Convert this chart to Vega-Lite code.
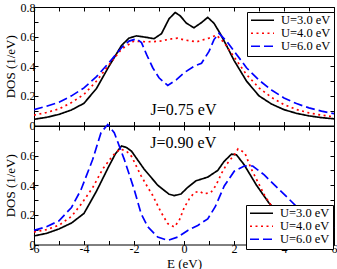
{
  "$schema": "https://vega.github.io/schema/vega-lite/v6.json",
  "padding": {"left": 4, "top": 0, "right": 4, "bottom": 0},
  "spacing": 0,
  "bounds": "flush",
  "datasets": {
    "top": [
      {"U": "U=3.0 eV", "E": -6, "DOS": 0.042}, {"U": "U=3.0 eV", "E": -5.5, "DOS": 0.055}, {"U": "U=3.0 eV", "E": -5, "DOS": 0.075}, {"U": "U=3.0 eV", "E": -4.5, "DOS": 0.105}, {"U": "U=3.0 eV", "E": -4, "DOS": 0.15}, {"U": "U=3.0 eV", "E": -3.5, "DOS": 0.25}, {"U": "U=3.0 eV", "E": -3, "DOS": 0.4}, {"U": "U=3.0 eV", "E": -2.5, "DOS": 0.54}, {"U": "U=3.0 eV", "E": -2.2, "DOS": 0.59}, {"U": "U=3.0 eV", "E": -1.9, "DOS": 0.605}, {"U": "U=3.0 eV", "E": -1.5, "DOS": 0.595}, {"U": "U=3.0 eV", "E": -1.2, "DOS": 0.586}, {"U": "U=3.0 eV", "E": -0.9, "DOS": 0.62}, {"U": "U=3.0 eV", "E": -0.6, "DOS": 0.72}, {"U": "U=3.0 eV", "E": -0.35, "DOS": 0.763}, {"U": "U=3.0 eV", "E": -0.15, "DOS": 0.74}, {"U": "U=3.0 eV", "E": 0.1, "DOS": 0.69}, {"U": "U=3.0 eV", "E": 0.4, "DOS": 0.66}, {"U": "U=3.0 eV", "E": 0.7, "DOS": 0.695}, {"U": "U=3.0 eV", "E": 0.95, "DOS": 0.73}, {"U": "U=3.0 eV", "E": 1.2, "DOS": 0.69}, {"U": "U=3.0 eV", "E": 1.45, "DOS": 0.62}, {"U": "U=3.0 eV", "E": 1.7, "DOS": 0.54}, {"U": "U=3.0 eV", "E": 2, "DOS": 0.44}, {"U": "U=3.0 eV", "E": 2.5, "DOS": 0.3}, {"U": "U=3.0 eV", "E": 3, "DOS": 0.2}, {"U": "U=3.0 eV", "E": 3.5, "DOS": 0.145}, {"U": "U=3.0 eV", "E": 4, "DOS": 0.107}, {"U": "U=3.0 eV", "E": 4.5, "DOS": 0.082}, {"U": "U=3.0 eV", "E": 5, "DOS": 0.065}, {"U": "U=3.0 eV", "E": 5.5, "DOS": 0.053}, {"U": "U=3.0 eV", "E": 6, "DOS": 0.045},
      {"U": "U=4.0 eV", "E": -6, "DOS": 0.07}, {"U": "U=4.0 eV", "E": -5.5, "DOS": 0.088}, {"U": "U=4.0 eV", "E": -5, "DOS": 0.112}, {"U": "U=4.0 eV", "E": -4.5, "DOS": 0.155}, {"U": "U=4.0 eV", "E": -4, "DOS": 0.21}, {"U": "U=4.0 eV", "E": -3.5, "DOS": 0.3}, {"U": "U=4.0 eV", "E": -3, "DOS": 0.41}, {"U": "U=4.0 eV", "E": -2.5, "DOS": 0.515}, {"U": "U=4.0 eV", "E": -2, "DOS": 0.57}, {"U": "U=4.0 eV", "E": -1.5, "DOS": 0.565}, {"U": "U=4.0 eV", "E": -1, "DOS": 0.568}, {"U": "U=4.0 eV", "E": -0.5, "DOS": 0.585}, {"U": "U=4.0 eV", "E": -0.25, "DOS": 0.59}, {"U": "U=4.0 eV", "E": 0, "DOS": 0.578}, {"U": "U=4.0 eV", "E": 0.5, "DOS": 0.565}, {"U": "U=4.0 eV", "E": 1, "DOS": 0.59}, {"U": "U=4.0 eV", "E": 1.3, "DOS": 0.61}, {"U": "U=4.0 eV", "E": 1.6, "DOS": 0.56}, {"U": "U=4.0 eV", "E": 2, "DOS": 0.464}, {"U": "U=4.0 eV", "E": 2.5, "DOS": 0.344}, {"U": "U=4.0 eV", "E": 3, "DOS": 0.254}, {"U": "U=4.0 eV", "E": 3.5, "DOS": 0.19}, {"U": "U=4.0 eV", "E": 4, "DOS": 0.141}, {"U": "U=4.0 eV", "E": 4.5, "DOS": 0.108}, {"U": "U=4.0 eV", "E": 5, "DOS": 0.085}, {"U": "U=4.0 eV", "E": 5.5, "DOS": 0.07}, {"U": "U=4.0 eV", "E": 6, "DOS": 0.058},
      {"U": "U=6.0 eV", "E": -6, "DOS": 0.107}, {"U": "U=6.0 eV", "E": -5.5, "DOS": 0.13}, {"U": "U=6.0 eV", "E": -5, "DOS": 0.157}, {"U": "U=6.0 eV", "E": -4.5, "DOS": 0.2}, {"U": "U=6.0 eV", "E": -4, "DOS": 0.254}, {"U": "U=6.0 eV", "E": -3.5, "DOS": 0.33}, {"U": "U=6.0 eV", "E": -3, "DOS": 0.424}, {"U": "U=6.0 eV", "E": -2.5, "DOS": 0.525}, {"U": "U=6.0 eV", "E": -2.2, "DOS": 0.57}, {"U": "U=6.0 eV", "E": -1.9, "DOS": 0.585}, {"U": "U=6.0 eV", "E": -1.7, "DOS": 0.56}, {"U": "U=6.0 eV", "E": -1.5, "DOS": 0.48}, {"U": "U=6.0 eV", "E": -1.25, "DOS": 0.39}, {"U": "U=6.0 eV", "E": -1, "DOS": 0.322}, {"U": "U=6.0 eV", "E": -0.65, "DOS": 0.27}, {"U": "U=6.0 eV", "E": -0.3, "DOS": 0.31}, {"U": "U=6.0 eV", "E": 0, "DOS": 0.356}, {"U": "U=6.0 eV", "E": 0.4, "DOS": 0.4}, {"U": "U=6.0 eV", "E": 0.7, "DOS": 0.42}, {"U": "U=6.0 eV", "E": 1, "DOS": 0.5}, {"U": "U=6.0 eV", "E": 1.2, "DOS": 0.58}, {"U": "U=6.0 eV", "E": 1.4, "DOS": 0.622}, {"U": "U=6.0 eV", "E": 1.7, "DOS": 0.57}, {"U": "U=6.0 eV", "E": 2, "DOS": 0.503}, {"U": "U=6.0 eV", "E": 2.5, "DOS": 0.39}, {"U": "U=6.0 eV", "E": 3, "DOS": 0.306}, {"U": "U=6.0 eV", "E": 3.5, "DOS": 0.24}, {"U": "U=6.0 eV", "E": 4, "DOS": 0.186}, {"U": "U=6.0 eV", "E": 4.5, "DOS": 0.148}, {"U": "U=6.0 eV", "E": 5, "DOS": 0.119}, {"U": "U=6.0 eV", "E": 5.5, "DOS": 0.097}, {"U": "U=6.0 eV", "E": 6, "DOS": 0.08}
    ],
    "bottom": [
      {"U": "U=3.0 eV", "E": -6, "DOS": 0.058}, {"U": "U=3.0 eV", "E": -5.5, "DOS": 0.075}, {"U": "U=3.0 eV", "E": -5, "DOS": 0.105}, {"U": "U=3.0 eV", "E": -4.5, "DOS": 0.145}, {"U": "U=3.0 eV", "E": -4, "DOS": 0.21}, {"U": "U=3.0 eV", "E": -3.5, "DOS": 0.36}, {"U": "U=3.0 eV", "E": -3, "DOS": 0.53}, {"U": "U=3.0 eV", "E": -2.75, "DOS": 0.61}, {"U": "U=3.0 eV", "E": -2.5, "DOS": 0.665}, {"U": "U=3.0 eV", "E": -2.3, "DOS": 0.655}, {"U": "U=3.0 eV", "E": -2.1, "DOS": 0.63}, {"U": "U=3.0 eV", "E": -1.6, "DOS": 0.51}, {"U": "U=3.0 eV", "E": -1.05, "DOS": 0.4}, {"U": "U=3.0 eV", "E": -0.6, "DOS": 0.34}, {"U": "U=3.0 eV", "E": -0.39, "DOS": 0.33}, {"U": "U=3.0 eV", "E": -0.12, "DOS": 0.341}, {"U": "U=3.0 eV", "E": 0.15, "DOS": 0.386}, {"U": "U=3.0 eV", "E": 0.48, "DOS": 0.43}, {"U": "U=3.0 eV", "E": 0.95, "DOS": 0.455}, {"U": "U=3.0 eV", "E": 1.35, "DOS": 0.5}, {"U": "U=3.0 eV", "E": 1.6, "DOS": 0.56}, {"U": "U=3.0 eV", "E": 1.9, "DOS": 0.61}, {"U": "U=3.0 eV", "E": 2.1, "DOS": 0.605}, {"U": "U=3.0 eV", "E": 2.4, "DOS": 0.54}, {"U": "U=3.0 eV", "E": 2.9, "DOS": 0.4}, {"U": "U=3.0 eV", "E": 3.4, "DOS": 0.28}, {"U": "U=3.0 eV", "E": 4, "DOS": 0.17}, {"U": "U=3.0 eV", "E": 5, "DOS": 0.09}, {"U": "U=3.0 eV", "E": 6, "DOS": 0.055},
      {"U": "U=4.0 eV", "E": -6, "DOS": 0.085}, {"U": "U=4.0 eV", "E": -5.5, "DOS": 0.1}, {"U": "U=4.0 eV", "E": -5, "DOS": 0.13}, {"U": "U=4.0 eV", "E": -4.5, "DOS": 0.19}, {"U": "U=4.0 eV", "E": -4.1, "DOS": 0.275}, {"U": "U=4.0 eV", "E": -3.65, "DOS": 0.385}, {"U": "U=4.0 eV", "E": -3.25, "DOS": 0.51}, {"U": "U=4.0 eV", "E": -2.85, "DOS": 0.6}, {"U": "U=4.0 eV", "E": -2.55, "DOS": 0.645}, {"U": "U=4.0 eV", "E": -2.3, "DOS": 0.63}, {"U": "U=4.0 eV", "E": -2.1, "DOS": 0.595}, {"U": "U=4.0 eV", "E": -1.72, "DOS": 0.465}, {"U": "U=4.0 eV", "E": -1.45, "DOS": 0.386}, {"U": "U=4.0 eV", "E": -1.25, "DOS": 0.331}, {"U": "U=4.0 eV", "E": -0.92, "DOS": 0.218}, {"U": "U=4.0 eV", "E": -0.65, "DOS": 0.141}, {"U": "U=4.0 eV", "E": -0.39, "DOS": 0.118}, {"U": "U=4.0 eV", "E": -0.19, "DOS": 0.163}, {"U": "U=4.0 eV", "E": 0.01, "DOS": 0.25}, {"U": "U=4.0 eV", "E": 0.21, "DOS": 0.307}, {"U": "U=4.0 eV", "E": 0.41, "DOS": 0.35}, {"U": "U=4.0 eV", "E": 0.61, "DOS": 0.36}, {"U": "U=4.0 eV", "E": 0.81, "DOS": 0.342}, {"U": "U=4.0 eV", "E": 1.08, "DOS": 0.352}, {"U": "U=4.0 eV", "E": 1.28, "DOS": 0.4}, {"U": "U=4.0 eV", "E": 1.5, "DOS": 0.48}, {"U": "U=4.0 eV", "E": 1.7, "DOS": 0.54}, {"U": "U=4.0 eV", "E": 2.03, "DOS": 0.61}, {"U": "U=4.0 eV", "E": 2.16, "DOS": 0.645}, {"U": "U=4.0 eV", "E": 2.43, "DOS": 0.62}, {"U": "U=4.0 eV", "E": 2.69, "DOS": 0.51}, {"U": "U=4.0 eV", "E": 2.96, "DOS": 0.42}, {"U": "U=4.0 eV", "E": 3.23, "DOS": 0.33}, {"U": "U=4.0 eV", "E": 3.5, "DOS": 0.26}, {"U": "U=4.0 eV", "E": 4, "DOS": 0.18}, {"U": "U=4.0 eV", "E": 5, "DOS": 0.1}, {"U": "U=4.0 eV", "E": 6, "DOS": 0.065},
      {"U": "U=6.0 eV", "E": -6, "DOS": 0.095}, {"U": "U=6.0 eV", "E": -5.5, "DOS": 0.12}, {"U": "U=6.0 eV", "E": -5, "DOS": 0.16}, {"U": "U=6.0 eV", "E": -4.5, "DOS": 0.25}, {"U": "U=6.0 eV", "E": -4.12, "DOS": 0.37}, {"U": "U=6.0 eV", "E": -3.65, "DOS": 0.575}, {"U": "U=6.0 eV", "E": -3.32, "DOS": 0.755}, {"U": "U=6.0 eV", "E": -3.05, "DOS": 0.81}, {"U": "U=6.0 eV", "E": -2.79, "DOS": 0.755}, {"U": "U=6.0 eV", "E": -2.39, "DOS": 0.575}, {"U": "U=6.0 eV", "E": -1.99, "DOS": 0.37}, {"U": "U=6.0 eV", "E": -1.72, "DOS": 0.21}, {"U": "U=6.0 eV", "E": -1.45, "DOS": 0.12}, {"U": "U=6.0 eV", "E": -1.05, "DOS": 0.05}, {"U": "U=6.0 eV", "E": -0.65, "DOS": 0.028}, {"U": "U=6.0 eV", "E": -0.25, "DOS": 0.05}, {"U": "U=6.0 eV", "E": 0.15, "DOS": 0.095}, {"U": "U=6.0 eV", "E": 0.55, "DOS": 0.129}, {"U": "U=6.0 eV", "E": 0.95, "DOS": 0.173}, {"U": "U=6.0 eV", "E": 1.25, "DOS": 0.255}, {"U": "U=6.0 eV", "E": 1.61, "DOS": 0.395}, {"U": "U=6.0 eV", "E": 2.01, "DOS": 0.495}, {"U": "U=6.0 eV", "E": 2.41, "DOS": 0.53}, {"U": "U=6.0 eV", "E": 2.75, "DOS": 0.53}, {"U": "U=6.0 eV", "E": 3.21, "DOS": 0.47}, {"U": "U=6.0 eV", "E": 3.75, "DOS": 0.38}, {"U": "U=6.0 eV", "E": 4.15, "DOS": 0.315}, {"U": "U=6.0 eV", "E": 4.6, "DOS": 0.24}, {"U": "U=6.0 eV", "E": 5, "DOS": 0.19}, {"U": "U=6.0 eV", "E": 5.5, "DOS": 0.15}, {"U": "U=6.0 eV", "E": 6, "DOS": 0.11}
    ]
  },
  "vconcat": [
    {
      "width": 300,
      "height": 118.5,
      "layer": [
        {
          "data": {"name": "top"},
          "mark": {"type": "line", "strokeWidth": 1.7, "clip": true},
          "encoding": {
            "x": {"field": "E", "type": "quantitative", "scale": {"domain": [-6, 6], "nice": false},
              "axis": {"orient": "bottom", "values": [-6,-5,-4,-3,-2,-1,0,1,2,3,4,5,6], "labels": false, "title": null}},
            "y": {"field": "DOS", "type": "quantitative", "scale": {"domain": [0, 0.8], "nice": false},
              "axis": {"orient": "left", "values": [0,0.1,0.2,0.3,0.4,0.5,0.6,0.7,0.8],
                "labelExpr": "round(datum.value*10)%2==0 ? (datum.value==0 ? '0' : format(datum.value,'.1f')) : ''",
                "title": "DOS (1/eV)"}},
            "color": {"field": "U", "type": "nominal",
              "scale": {"domain": ["U=3.0 eV", "U=4.0 eV", "U=6.0 eV"], "range": ["#000000", "#ff0000", "#0000ff"]},
              "legend": {"orient": "none", "legendX": 213, "legendY": 5, "title": null}},
            "strokeDash": {"field": "U", "type": "nominal",
              "scale": {"domain": ["U=3.0 eV", "U=4.0 eV", "U=6.0 eV"], "range": [[1, 0], [2, 3.5], [9, 4]]},
              "legend": {"orient": "none", "legendX": 213, "legendY": 5, "title": null}}
          }
        },
        {
          "data": {"values": [{"E": -0.02, "DOS": 0.068, "label": "J=0.75 eV"}]},
          "mark": {"type": "text", "fontSize": 16, "align": "center", "baseline": "alphabetic", "font": "Liberation Serif", "color": "black"},
          "encoding": {
            "x": {"field": "E", "type": "quantitative", "axis": {"orient": "top", "values": [-6,-5,-4,-3,-2,-1,0,1,2,3,4,5,6], "labels": false, "title": null}},
            "y": {"field": "DOS", "type": "quantitative", "axis": {"orient": "right", "values": [0,0.1,0.2,0.3,0.4,0.5,0.6,0.7,0.8], "labels": false, "title": null}},
            "text": {"field": "label"}
          }
        }
      ]
    },
    {
      "width": 300,
      "height": 118.5,
      "layer": [
        {
          "data": {"name": "bottom"},
          "mark": {"type": "line", "strokeWidth": 1.7},
          "encoding": {
            "x": {"field": "E", "type": "quantitative", "scale": {"domain": [-6, 6], "nice": false},
              "axis": {"orient": "bottom", "values": [-6,-5,-4,-3,-2,-1,0,1,2,3,4,5,6],
                "labelExpr": "datum.value % 2 == 0 ? '' + datum.value : ''", "title": "E (eV)"}},
            "y": {"field": "DOS", "type": "quantitative", "scale": {"domain": [0, 0.8], "nice": false},
              "axis": {"orient": "left", "values": [0,0.1,0.2,0.3,0.4,0.5,0.6,0.7,0.8],
                "labelExpr": "(round(datum.value*10)%2==0 && datum.value < 0.75) ? (datum.value==0 ? '0' : format(datum.value,'.1f')) : ''",
                "title": "DOS (1/eV)"}},
            "color": {"field": "U", "type": "nominal",
              "scale": {"domain": ["U=3.0 eV", "U=4.0 eV", "U=6.0 eV"], "range": ["#000000", "#ff0000", "#0000ff"]},
              "legend": {"orient": "none", "legendX": 212, "legendY": 79, "title": null}},
            "strokeDash": {"field": "U", "type": "nominal",
              "scale": {"domain": ["U=3.0 eV", "U=4.0 eV", "U=6.0 eV"], "range": [[1, 0], [2, 3.5], [9, 4]]},
              "legend": {"orient": "none", "legendX": 212, "legendY": 79, "title": null}}
          }
        },
        {
          "data": {"values": [{"E": -0.03, "DOS": 0.654, "label": "J=0.90 eV"}]},
          "mark": {"type": "text", "fontSize": 16, "align": "center", "baseline": "alphabetic", "font": "Liberation Serif", "color": "black"},
          "encoding": {
            "x": {"field": "E", "type": "quantitative", "axis": {"orient": "top", "values": [-6,-5,-4,-3,-2,-1,0,1,2,3,4,5,6], "labels": false, "title": null}},
            "y": {"field": "DOS", "type": "quantitative", "axis": {"orient": "right", "values": [0,0.1,0.2,0.3,0.4,0.5,0.6,0.7,0.8], "labels": false, "title": null}},
            "text": {"field": "label"}
          }
        }
      ]
    }
  ],
  "resolve": {"scale": {"color": "independent", "strokeDash": "independent"}, "legend": {"color": "independent", "strokeDash": "independent"}},
  "config": {
    "font": "Liberation Serif",
    "view": {"stroke": "#000000", "strokeWidth": 1},
    "axis": {
      "domain": false, "grid": false, "tickColor": "#000000", "tickSize": -4, "tickWidth": 1,
      "labelColor": "#000000", "labelFont": "Liberation Serif", "labelFontSize": 12, "labelPadding": 3,
      "labelFlush": false, "labelOverlap": false,
      "titleColor": "#000000", "titleFont": "Liberation Serif", "titleFontWeight": "normal", "titleFontSize": 13, "titlePadding": 2.5
    },
    "legend": {
      "fillColor": "#ffffff", "strokeColor": "#000000", "padding": 3, "cornerRadius": 0,
      "symbolType": "stroke", "symbolSize": 529, "symbolStrokeWidth": 1.7, "clipHeight": 10.5,
      "labelFont": "Liberation Serif", "labelFontSize": 12.5, "labelColor": "#000000", "labelOffset": 6,
      "rowPadding": 0
    }
  }
}
